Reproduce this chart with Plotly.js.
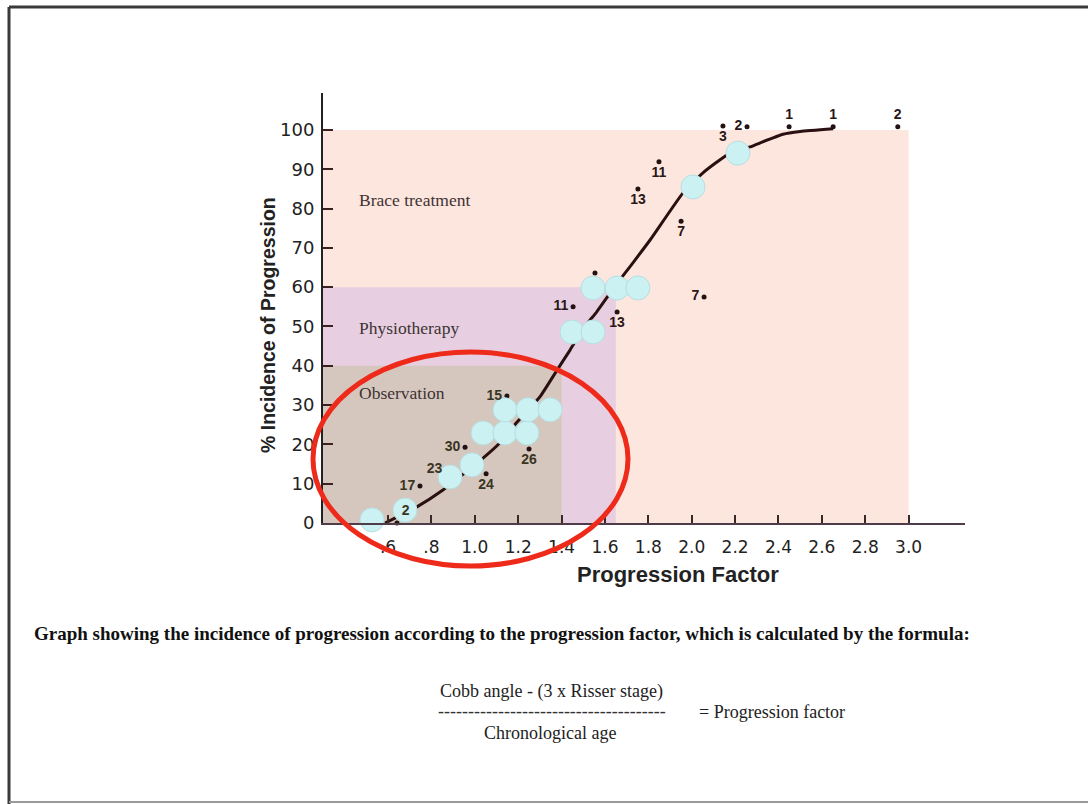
<!DOCTYPE html>
<html>
<head>
<meta charset="utf-8">
<script src="https://cdn.plot.ly/plotly-3.0.1.min.js"></script>
<style>
  html, body { margin: 0; padding: 0; background: #fff; }
  #chart { width: 1088px; height: 804px; }
</style>
</head>
<body>
<div id="chart"></div>
<script>
// ---------------- DATA ----------------
// Treatment zones (upper bounds of progression factor and incidence)
const zoneNames = ["Brace treatment", "Physiotherapy", "Observation"];
const zoneXmax = [3.0, 1.65, 1.40];
const zoneYmax = [100, 60, 40];

// Fitted curve
const curveX = [0.586, 0.733, 0.853, 1.038, 1.116, 1.195, 1.30, 1.379, 1.439, 1.499, 1.563, 1.647, 1.729, 1.808, 1.96, 2.052, 2.163, 2.269, 2.421, 2.50, 2.652];
const curveY = [0, 4.1, 8.4, 16.5, 20.4, 25.7, 32.1, 38.9, 44.0, 49.4, 53.8, 60.3, 66.2, 72.0, 84.0, 89.1, 93.6, 95.7, 98.9, 99.6, 100.3];

// Small black data points with their counts
const dotX = [2.95, 2.652, 2.449, 2.255, 2.144, 1.849, 1.752, 1.951, 2.057, 1.554, 1.453, 1.656, 1.148, 0.955, 0.872, 0.747, 1.052, 1.25, 0.641];
const dotY = [100.8, 100.8, 100.8, 100.8, 101, 91.9, 85, 76.8, 57.5, 63.6, 55, 53.7, 32.3, 19.3, 13.5, 9.4, 12.5, 18.8, 0];
const dotLabel = ["2", "1", "1", "2", "3", "11", "13", "7", "7", "", "11", "13", "15", "30", "23", "17", "24", "26", "2"];

// Highlighted (light blue) points
const blueX = [0.526, 0.678, 0.886, 0.987, 1.038, 1.139, 1.24, 1.139, 1.245, 1.347, 1.448, 1.545, 1.545, 1.656, 1.752, 2.006, 2.213];
const blueY = [0.8, 3.3, 11.7, 14.8, 22.9, 22.9, 22.9, 28.8, 28.8, 28.8, 48.6, 48.6, 59.8, 59.8, 59.8, 85.5, 94.1];

// Axis ticks
const xTickVals = [0.6, 0.8, 1.0, 1.2, 1.4, 1.6, 1.8, 2.0, 2.2, 2.4, 2.6, 2.8, 3.0];
const xTickText = [".6", ".8", "1.0", "1.2", "1.4", "1.6", "1.8", "2.0", "2.2", "2.4", "2.6", "2.8", "3.0"];
const yTickVals = [0, 10, 20, 30, 40, 50, 60, 70, 80, 90, 100];

// Texts
const xTitle = "Progression Factor";
const yTitle = "% Incidence of Progression";
const caption = "Graph showing the incidence of progression according to the progression factor, which is calculated by the formula:";
const formulaTop = "Cobb angle - (3 x Risser stage)";
const formulaBottom = "Chronological age";
const formulaRight = "= Progression factor";

// ---------------- STYLE / LAYOUT ----------------
const W = 1088, H = 804;
const M = { l: 323, r: 123, t: 93, b: 281 };
const PW = W - M.l - M.r, PH = H - M.t - M.b;
const px = v => (v - M.l) / PW;            // pixel x -> paper x
const py = v => (H - M.b - v) / PH;        // pixel y -> paper y

const zoneColors = ["#fde6de", "#e7cfe1", "#d6c7be"];
const dotLabelPos = ["top center", "top center", "top center", "middle left", "bottom center",
  "bottom center", "bottom center", "bottom center", "middle left", "bottom center",
  "middle left", "bottom center", "middle left", "middle left", "middle left",
  "middle left", "bottom center", "bottom center", "top right"];
const dotLabelColor = dotX.map((x, i) => (x < 1.4 && dotY[i] < 40) ? "#3a3522" : "#2b1616");

const shapes = [];
zoneNames.forEach((n, i) => {
  shapes.push({
    type: "rect", xref: "x", yref: "y", layer: "below",
    x0: 0.30, x1: zoneXmax[i], y0: 0, y1: zoneYmax[i],
    fillcolor: zoneColors[i], line: { width: 0 }
  });
});
// red ellipse highlight
shapes.push({
  type: "circle", xref: "paper", yref: "paper", layer: "above",
  x0: px(313), x1: px(628), y0: py(566), y1: py(352),
  line: { color: "#ee2b1b", width: 5 }, fillcolor: "rgba(0,0,0,0)"
});
// picture frame
shapes.push({ type: "line", xref: "paper", yref: "paper", x0: px(9), x1: px(1090), y0: py(7), y1: py(7), line: { color: "#3a3a3a", width: 3 } });
shapes.push({ type: "line", xref: "paper", yref: "paper", x0: px(9), x1: px(9), y0: py(7), y1: py(806), line: { color: "#3a3a3a", width: 3 } });
shapes.push({ type: "line", xref: "paper", yref: "paper", x0: px(9), x1: px(1090), y0: py(802), y1: py(802), line: { color: "#9a9a9a", width: 2 } });

const serif = "Liberation Serif, Times New Roman, serif";
const sans = "Liberation Sans, Arial, sans-serif";
const zoneLabelY = [82.2, 49.6, 33.1];
const annotations = zoneNames.map((n, i) => ({
  text: n, x: 0.457, y: zoneLabelY[i], xref: "x", yref: "y",
  xanchor: "left", yanchor: "middle", showarrow: false,
  font: { family: serif, size: 17.5, color: "#3d3333" }
}));
annotations.push({
  text: "<b>" + xTitle + "</b>", xref: "paper", yref: "paper", x: px(678), y: py(574),
  xanchor: "center", yanchor: "middle", showarrow: false,
  font: { family: sans, size: 22, color: "#222" }
});
annotations.push({
  text: "<b>" + yTitle + "</b>", xref: "paper", yref: "paper", x: px(268), y: py(325),
  xanchor: "center", yanchor: "middle", showarrow: false, textangle: -90,
  font: { family: sans, size: 19.5, color: "#222" }
});
annotations.push({
  text: "<b>" + caption + "</b>", xref: "paper", yref: "paper", x: px(32), y: py(633),
  xanchor: "left", yanchor: "middle", showarrow: false,
  font: { family: serif, size: 19, color: "#111" }
});
annotations.push({
  text: formulaTop, xref: "paper", yref: "paper", x: px(551), y: py(691),
  xanchor: "center", yanchor: "middle", showarrow: false,
  font: { family: serif, size: 18, color: "#222" }
});
annotations.push({
  text: "-".repeat(38), xref: "paper", yref: "paper", x: px(552), y: py(711),
  xanchor: "center", yanchor: "middle", showarrow: false,
  font: { family: serif, size: 18, color: "#333" }
});
annotations.push({
  text: formulaRight, xref: "paper", yref: "paper", x: px(697), y: py(712),
  xanchor: "left", yanchor: "middle", showarrow: false,
  font: { family: serif, size: 18, color: "#222" }
});
annotations.push({
  text: formulaBottom, xref: "paper", yref: "paper", x: px(550), y: py(733),
  xanchor: "center", yanchor: "middle", showarrow: false,
  font: { family: serif, size: 18, color: "#222" }
});

const traces = [
  {
    x: curveX, y: curveY, type: "scatter", mode: "lines",
    line: { color: "#2a1010", width: 3, shape: "spline", smoothing: 0.5 },
    hoverinfo: "skip", showlegend: false
  },
  {
    x: dotX, y: dotY, type: "scatter", mode: "markers",
    marker: { size: 5, color: "#241212" },
    cliponaxis: false, showlegend: false
  },
  {
    x: blueX, y: blueY, type: "scatter", mode: "markers",
    marker: { size: 24, color: "#cbf1f3", line: { color: "#b5dfe3", width: 1 } },
    cliponaxis: false, showlegend: false
  },
  {
    x: dotX, y: dotY, type: "scatter", mode: "markers+text",
    text: dotLabel, textposition: dotLabelPos,
    textfont: { family: sans, size: 14, color: dotLabelColor, weight: "bold" },
    marker: { size: 6, color: "rgba(0,0,0,0)" },
    cliponaxis: false, showlegend: false
  }
];

const layout = {
  width: W, height: H, autosize: false,
  margin: M,
  paper_bgcolor: "#ffffff", plot_bgcolor: "#ffffff",
  showlegend: false,
  xaxis: {
    range: [0.30, 3.26], tickvals: xTickVals, ticktext: xTickText,
    ticks: "inside", ticklen: 8, tickwidth: 2, tickcolor: "#3a2828",
    showline: true, linecolor: "#4e3c48", linewidth: 2,
    showgrid: false, zeroline: false, ticklabelstandoff: 8,
    tickfont: { family: "DejaVu Sans, sans-serif", size: 17, color: "#222" }
  },
  yaxis: {
    range: [0, 109.4], tickvals: yTickVals,
    ticks: "inside", ticklen: 10, tickwidth: 2, tickcolor: "#3a2020",
    showline: true, linecolor: "#222", linewidth: 2,
    showgrid: false, zeroline: false, ticklabelstandoff: 3,
    tickfont: { family: "DejaVu Sans, sans-serif", size: 18, color: "#222" }
  },
  shapes: shapes,
  annotations: annotations
};

Plotly.newPlot("chart", traces, layout, { displayModeBar: false, staticPlot: true });
</script>
</body>
</html>
